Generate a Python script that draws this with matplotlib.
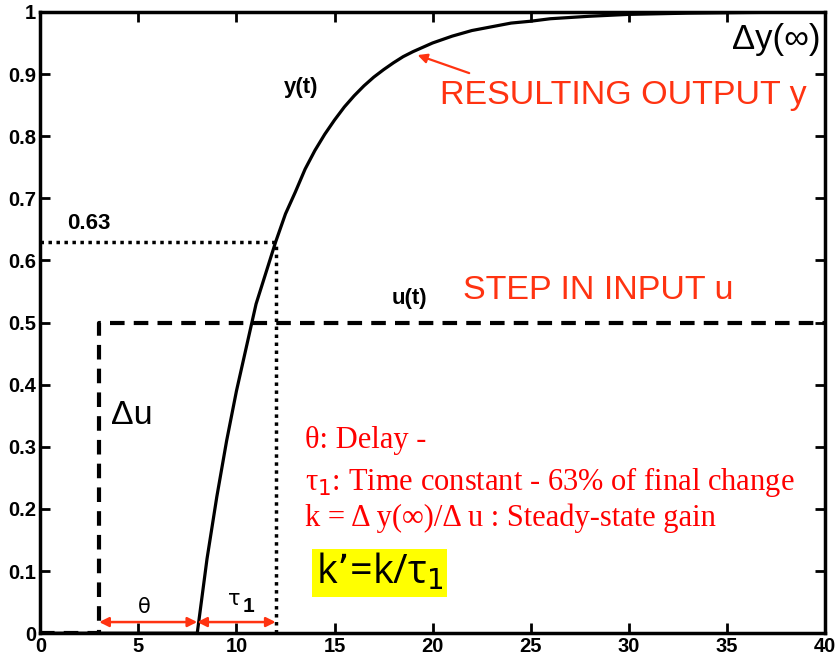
import numpy as np
import matplotlib.pyplot as plt

# values
t_out = [0, 8, 8.5, 9, 9.5, 10, 10.5, 11, 11.5, 12, 12.5, 13, 13.5, 14, 14.5, 15,
         15.5, 16, 16.5, 17, 17.5, 18, 18.5, 19, 19.5, 20, 21, 22, 23, 24, 25,
         26, 27, 28, 30, 33, 36, 40]
y_out = [0, 0, 0.12, 0.22, 0.31, 0.39, 0.46, 0.53, 0.58, 0.63, 0.675, 0.71, 0.747,
         0.777, 0.803, 0.826, 0.847, 0.865, 0.881, 0.895, 0.907, 0.918, 0.928,
         0.936, 0.943, 0.95, 0.961, 0.97, 0.976, 0.982, 0.985, 0.989, 0.991,
         0.993, 0.996, 0.998, 0.999, 1.0]
t_in = [0, 3, 3, 40]
u_in = [0, 0, 0.5, 0.5]
delay = 3
t_start = 8
t_63 = 12
y_63 = 0.63
xticks = [0, 5, 10, 15, 20, 25, 30, 35, 40]
yticks = [0, 0.1, 0.2, 0.3, 0.4, 0.5, 0.6, 0.7, 0.8, 0.9, 1]
ytick_labels = ['0', '0.1', '0.2', '0.3', '0.4', '0.5', '0.6', '0.7', '0.8', '0.9', '1']

plt.rcParams['font.family'] = ['Liberation Sans', 'DejaVu Sans']
red = '#ff3311'

fig = plt.figure(figsize=(8.4, 6.61), dpi=100)
ax = fig.add_axes([0.048, 0.042, 0.934, 0.94])

ax.plot(t_out, y_out, color='black', lw=2.3)
ax.plot(t_in, u_in, color='black', lw=3, linestyle=(0, (3.5, 2.2)))
ax.plot([0, t_63], [y_63, y_63], color='black', lw=2.5, linestyle=(0, (1, 1.3)))
ax.plot([t_63, t_63], [0, y_63], color='black', lw=2.5, linestyle=(0, (1, 1.3)))

ax.set_xlim(0, 40)
ax.set_ylim(0, 1)
ax.set_xticks(xticks)
ax.set_yticks(yticks)
ax.set_yticklabels(ytick_labels)
ax.tick_params(direction='in', top=True, right=True, length=7, width=2,
               labelsize=14.5, pad=3)
for lab in ax.get_xticklabels() + ax.get_yticklabels():
    lab.set_fontweight('bold')
for s in ax.spines.values():
    s.set_linewidth(2.5)

# annotations
ax.text(1.35, 0.65, '0.63', fontsize=16, fontweight='bold')
ax.text(12.4, 0.878, 'y(t)', fontsize=16, fontweight='bold', va='center')
ax.text(17.9, 0.538, 'u(t)', fontsize=16, fontweight='bold', va='center')
ax.text(21.55, 0.552, 'STEP IN INPUT u', fontsize=24.5, color=red, va='center')
ax.text(20.4, 0.866, 'RESULTING OUTPUT y', fontsize=24.5, color=red, va='center')
ax.text(39.8, 0.955, 'Δy(∞)', fontsize=25, color='black', ha='right', va='center')
ax.text(3.6, 0.35, 'Δu', fontsize=24.5, color='black', va='center')
ax.annotate('', xy=(19.1, 0.932), xytext=(22.0, 0.9),
            arrowprops=dict(arrowstyle='-|>', color=red, lw=1.6, mutation_scale=14))

# delay / time constant arrows
arr = dict(arrowstyle='<|-|>', color=red, lw=1.8, mutation_scale=14, shrinkA=0, shrinkB=0)
ax.annotate('', xy=(delay, 0.018), xytext=(t_start, 0.018), arrowprops=arr)
ax.annotate('', xy=(t_start, 0.018), xytext=(t_63, 0.018), arrowprops=arr)
ax.text(5.3, 0.043, 'θ', fontsize=15, ha='center', va='center',
        family=['DejaVu Sans'])
ax.text(9.9, 0.055, 'τ', fontsize=15, ha='center', va='center',
        family=['DejaVu Sans'])
ax.text(10.6, 0.043, '1', fontsize=15, ha='center', va='center', fontweight='bold')

serif = ['Liberation Serif', 'DejaVu Serif']
ax.text(13.5, 0.311, 'θ: Delay -', fontsize=22, color='red', family=serif, va='center')
ax.text(13.5, 0.243, r'τ$_1$: Time constant - 63% of final change', fontsize=22,
        color='red', family=serif, va='center')
ax.text(13.5, 0.185, 'k = Δ y(∞)/Δ u : Steady-state gain', fontsize=22,
        color='red', family=serif, va='center')
ax.text(14.05, 0.097, 'k’=k/τ$_1$', fontsize=28.5, color='black', va='center',
        family=['Open Sans', 'DejaVu Sans'],
        bbox=dict(facecolor='yellow', edgecolor='none', pad=2.5))

fig.savefig('out.png', dpi=100)
